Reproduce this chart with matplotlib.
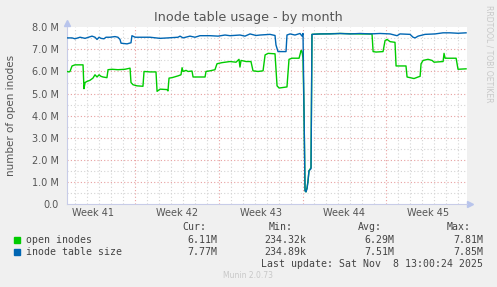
import matplotlib
matplotlib.use('Agg')
import matplotlib.pyplot as plt
from matplotlib.ticker import FuncFormatter, MultipleLocator
from matplotlib.patches import Rectangle

# x values are days since the left edge of the graph, y values in millions
open_days = [0.00, 0.17, 0.25, 0.42, 0.67, 1.34, 1.42, 1.51, 1.67, 1.92, 2.17, 2.34, 2.51,
             2.68, 2.84, 3.01, 3.34, 3.43, 3.76, 4.26, 4.85, 5.27, 5.35, 5.52, 5.85, 6.35,
             6.44, 6.94, 7.44, 7.53, 7.78, 8.36, 8.44, 8.53, 8.78, 9.28, 9.53, 9.62, 9.70,
             9.95, 10.12, 10.45, 10.54, 11.54, 11.62, 11.96, 12.37, 12.54, 12.96, 13.63,
             14.13, 14.38, 14.46, 14.55, 14.97, 15.38, 15.55, 15.97, 16.39, 16.56, 16.81,
             17.39, 17.56, 17.73, 18.39, 18.56, 18.81, 19.40, 19.57, 19.65, 19.73, 19.82,
             19.90, 19.98, 20.07, 20.15, 20.23, 20.40, 20.48, 21.15, 22.83, 24.50, 25.50,
             25.59, 25.84, 26.42, 26.59, 26.76, 27.01, 27.42, 27.51, 28.34, 28.43, 28.68,
             29.01, 29.35, 29.52, 29.60, 29.77, 30.18, 30.52, 30.69, 31.44, 31.52, 31.61,
             32.53, 32.69, 33.36]
open_vals = [6.00, 5.98, 6.00, 6.25, 6.30, 6.30, 5.22, 5.50, 5.55, 5.60, 5.70, 5.85, 5.75,
             5.85, 5.78, 5.75, 5.72, 6.08, 6.10, 6.08, 6.10, 6.15, 5.50, 5.40, 5.35, 5.33,
             6.00, 5.98, 5.98, 5.10, 5.20, 5.18, 5.12, 5.70, 5.72, 5.80, 5.85, 6.17, 6.00,
             6.05, 6.00, 6.02, 5.75, 5.75, 6.00, 6.03, 6.08, 6.35, 6.40, 6.45,
             6.42, 6.55, 6.20, 6.50, 6.45, 6.45, 6.03, 6.00, 6.03, 6.75, 6.82,
             6.80, 5.35, 5.25, 5.30, 6.55, 6.60, 6.60, 6.95, 6.90, 6.60, 4.00,
             0.60, 0.55, 0.75, 1.05, 1.50, 1.65, 7.68, 7.70, 7.72, 7.70, 7.70,
             6.90, 6.88, 6.90, 7.40, 7.45, 7.35, 7.32, 6.25, 6.25, 5.75, 5.72,
             5.68, 5.75, 5.78, 6.35, 6.50, 6.55, 6.50, 6.42, 6.45, 6.82, 6.60,
             6.60, 6.10, 6.12]

size_days = [0.00, 0.42, 0.67, 1.09, 1.51, 2.09, 2.34, 2.51, 2.68, 2.84, 3.09, 3.26, 3.60,
             4.01, 4.26, 4.43, 4.52, 5.02, 5.35, 5.43, 5.69, 6.10, 6.94, 7.78, 8.44, 9.28,
             9.45, 9.70, 10.28, 10.70, 11.12, 11.96, 12.63, 13.21, 13.63, 14.46, 14.88,
             15.30, 15.80, 16.14, 16.97, 17.39, 17.47, 17.64, 18.31, 18.39, 18.65, 19.06,
             19.48, 19.65, 19.73, 19.82, 19.90, 19.98, 20.07, 20.15, 20.23, 20.40, 20.48,
             21.15, 21.99, 22.83, 23.66, 24.50, 25.33, 26.17, 27.01, 27.59, 27.84, 28.68,
             28.93, 29.10, 29.35, 29.93, 30.77, 31.44, 32.02, 32.69, 33.36]
size_vals = [7.52, 7.52, 7.48, 7.55, 7.50, 7.60, 7.55, 7.45, 7.55, 7.50, 7.48, 7.55, 7.55,
             7.58, 7.55, 7.45, 7.28, 7.25, 7.30, 7.62, 7.55, 7.55, 7.55, 7.50, 7.52, 7.55,
             7.60, 7.52, 7.60, 7.55, 7.62, 7.62, 7.60, 7.65, 7.62, 7.65, 7.60,
             7.70, 7.63, 7.65, 7.68, 7.63, 7.20, 6.90, 6.90, 7.65, 7.70, 7.65,
             7.72, 7.60, 7.72, 4.00, 0.60, 0.55, 0.70, 1.05, 1.50, 1.60, 7.68,
             7.70, 7.70, 7.72, 7.70, 7.72, 7.70, 7.72, 7.70, 7.62, 7.70, 7.68,
             7.55, 7.52, 7.60, 7.68, 7.70, 7.75, 7.75, 7.73, 7.75]

week_labels = ['Week 41', 'Week 42', 'Week 43', 'Week 44', 'Week 45']
first_monday = 5.69
x_span = 33.44

stat_names = ['Cur:', 'Min:', 'Avg:', 'Max:']
open_stats = ['6.11M', '234.32k', '6.29M', '7.81M']
size_stats = ['7.77M', '234.89k', '7.51M', '7.85M']

green = '#00CC00'
blue = '#0066B3'
W, H = 497, 287

fig = plt.figure(figsize=(W / 100, H / 100), dpi=100, facecolor='#F0F0F0')
ax = fig.add_axes([67 / W, 1 - 204 / H, 400 / W, 176.7 / H])
ax.set_facecolor('white')

ax.plot(open_days, open_vals, color=green, lw=1.0, zorder=3)
ax.plot(size_days, size_vals, color=blue, lw=1.0, zorder=4)

ax.set_xlim(0, x_span)
ax.set_ylim(0, 8)

# grid: red dotted for major, grey dotted for minor
mondays = [first_monday + 7 * i for i in range(len(week_labels) - 1)]
days = [first_monday - 7 + i for i in range(40) if 0 < first_monday - 7 + i < x_span]
ax.set_xticks([first_monday - 3.5 + 7 * i for i in range(len(week_labels))])
ax.set_xticklabels(week_labels)
for d in days:
    if d in mondays:
        continue
    ax.axvline(d, color='#D4D4D4', lw=0.8, ls=(0, (1, 2)), zorder=1)
for m in mondays:
    ax.axvline(m, color='#E8A0A0', lw=0.8, ls=(0, (1, 2)), zorder=2)
for v in range(1, 16):
    y = v * 0.5
    if v % 2 == 0:
        ax.axhline(y, color='#E8A0A0', lw=0.8, ls=(0, (1, 2)), zorder=2)
    else:
        ax.axhline(y, color='#D4D4D4', lw=0.8, ls=(0, (1, 2)), zorder=1)

ax.yaxis.set_major_locator(MultipleLocator(1))
ax.yaxis.set_major_formatter(FuncFormatter(lambda v, p: '0.0' if v == 0 else '%.1f M' % v))
ax.tick_params(axis='y', length=0, pad=6, labelsize=7, labelcolor='#555555')
ax.tick_params(axis='x', length=0, pad=3, labelsize=7, labelcolor='#555555')

for s in ['top', 'right']:
    ax.spines[s].set_visible(False)
for s in ['left', 'bottom']:
    ax.spines[s].set_color('#C8CCE8')
    ax.spines[s].set_linewidth(0.8)
ax.plot([0], [1.025], marker='^', ms=4, color='#B8C4EC', transform=ax.transAxes, clip_on=False)
ax.plot([1.008], [0], marker='>', ms=4, color='#B8C4EC', transform=ax.transAxes, clip_on=False)

fig.text(0.5, 1 - 18 / H, 'Inode table usage - by month', ha='center', va='center',
         fontsize=9.2, color='#555555')
fig.text(11 / W, 1 - 115 / H, 'number of open inodes', rotation=90, ha='center', va='center',
         fontsize=7.5, color='#555555')
fig.text(489 / W, 1 - 5 / H, 'RRDTOOL / TOBI OETIKER', rotation=270, ha='center', va='top',
         fontsize=5.5, color='#C8C8C8')

# legend block
mono = dict(family='DejaVu Sans Mono', fontsize=7.1, color='#444444', va='center')
head_x = [182, 269, 358, 447]
val_x = [217, 306, 394, 483]
for name, hx in zip(stat_names, head_x):
    fig.text(hx / W, 1 - 227 / H, name, ha='left', **mono)
rows = [('open inodes', green, open_stats, 240), ('inode table size', blue, size_stats, 252)]
for label, col, stats, ry in rows:
    fig.patches.append(Rectangle((14 / W, 1 - (ry + 2.7) / H), 5.5 / W, 5.5 / H,
                                 transform=fig.transFigure, color=col, figure=fig))
    fig.text(26 / W, 1 - ry / H, label, ha='left', **mono)
    for s, vx in zip(stats, val_x):
        fig.text(vx / W, 1 - ry / H, s, ha='right', **mono)
fig.text(483 / W, 1 - 264 / H, 'Last update: Sat Nov  8 13:00:24 2025', ha='right', **mono)
fig.text(248 / W, 1 - 276 / H, 'Munin 2.0.73', ha='center', va='center', fontsize=5.5, color='#C8C8C8')

fig.savefig('out.png', dpi=100, facecolor=fig.get_facecolor())
